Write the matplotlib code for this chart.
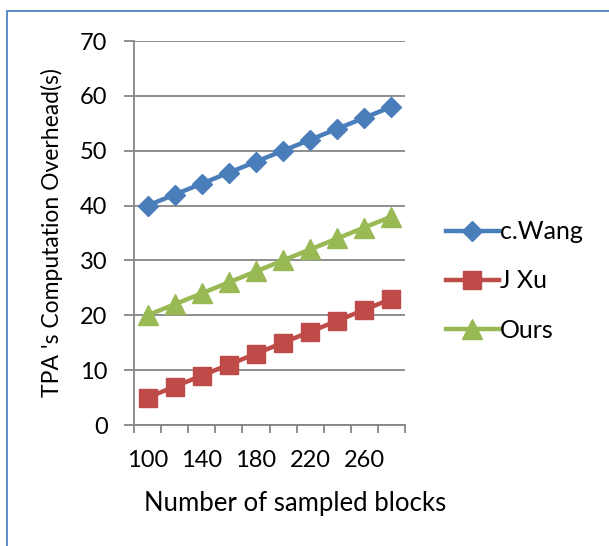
import matplotlib.pyplot as plt
from matplotlib.patches import Rectangle
import numpy as np

plt.rcParams['font.family'] = ['Lato', 'DejaVu Sans']

blocks = [100, 120, 140, 160, 180, 200, 220, 240, 260, 280]
tick_labels = ['100', '140', '180', '220', '260']
c_wang = [40, 42, 44, 46, 48, 50, 52, 54, 56, 58]
j_xu = [5, 7, 9, 11, 13, 15, 17, 19, 21, 23]
ours = [20, 22, 24, 26, 28, 30, 32, 34, 36, 38]

fig = plt.figure(figsize=(6.09, 5.46), dpi=100)
fig.patches.append(Rectangle((7 / 609, -0.1), 1.2, 1 - 11 / 546 + 0.1, transform=fig.transFigure,
                             fill=False, edgecolor='#4F81BD', lw=1.3, zorder=0))

ax = fig.add_axes([134 / 609, 121 / 546, 271 / 609, 384 / 546])
x = np.arange(len(blocks))

l1, = ax.plot(x, c_wang, color='#4A7EBB', lw=3.2, marker='D', markersize=10, label='c.Wang', clip_on=False)
l2, = ax.plot(x, j_xu, color='#BE4B48', lw=3.2, marker='s', markersize=13, label='J Xu', clip_on=False)
l3, = ax.plot(x, ours, color='#98B954', lw=3.2, marker='^', markersize=14, label='Ours', clip_on=False)

ax.set_xlim(-0.5, len(blocks) - 0.5)
ax.set_ylim(0, 70)
ax.set_yticks(range(0, 71, 10))
ax.yaxis.grid(True, color='#868686', lw=1.3)
ax.set_axisbelow(True)

ax.set_xticks(np.arange(-0.5, len(blocks), 1))
ax.set_xticklabels([])
ax.set_xticks(x[::2], minor=True)
ax.set_xticklabels(tick_labels, minor=True)
ax.tick_params(axis='x', which='major', length=6, width=1.3, color='#868686', direction='out')
ax.tick_params(axis='x', which='minor', length=0, pad=18, labelsize=17)
ax.tick_params(axis='y', length=7, width=1.3, color='#868686', labelsize=17, pad=12)

for s in ['top', 'right']:
    ax.spines[s].set_visible(False)
for s in ['left', 'bottom']:
    ax.spines[s].set_color('#868686')
    ax.spines[s].set_linewidth(1.3)

ax.set_xlabel('Number of sampled blocks', fontsize=18.5)
ax.xaxis.set_label_coords((295 - 134) / 271, -(503 - 425) / 384)
ax.xaxis.label.set_va('center')
ax.set_ylabel("TPA 's Computation Overhead(s)", fontsize=16.5, labelpad=12)

fig.legend(handles=[l1, l2, l3], loc='center left', bbox_to_anchor=(436 / 609, 1 - 281 / 546),
           frameon=False, fontsize=18, handlelength=2.1, handletextpad=0.05, labelspacing=1.05,
           borderpad=0, borderaxespad=0.4)

fig.savefig('out.png', dpi=100)
